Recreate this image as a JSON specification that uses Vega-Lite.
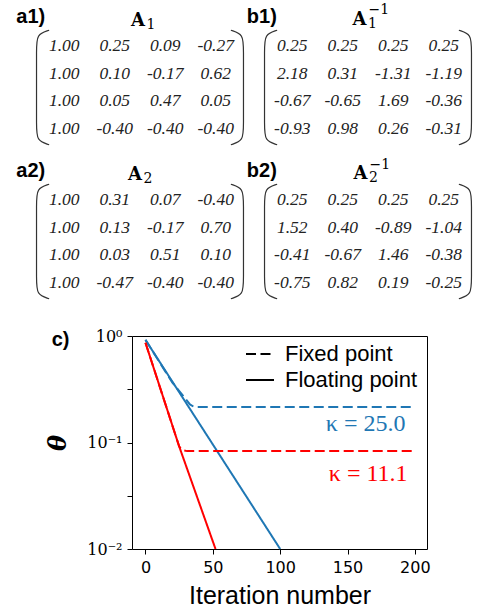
{
  "$schema": "https://vega.github.io/schema/vega-lite/v6.json",
  "background": "white",
  "padding": {"left": 16, "top": 3, "right": 0, "bottom": 0},
  "config": {
    "view": {"stroke": null},
    "axis": {"labelColor": "black", "tickColor": "black", "titleColor": "black", "grid": false, "domain": false},
    "legend": {"labelColor": "black"}
  },
  "datasets": {
    "mat": [
      {"m": "a1", "r": 0, "c": 0, "v": "1.00"}, {"m": "a1", "r": 0, "c": 1, "v": "0.25"}, {"m": "a1", "r": 0, "c": 2, "v": "0.09"}, {"m": "a1", "r": 0, "c": 3, "v": "-0.27"},
      {"m": "a1", "r": 1, "c": 0, "v": "1.00"}, {"m": "a1", "r": 1, "c": 1, "v": "0.10"}, {"m": "a1", "r": 1, "c": 2, "v": "-0.17"}, {"m": "a1", "r": 1, "c": 3, "v": "0.62"},
      {"m": "a1", "r": 2, "c": 0, "v": "1.00"}, {"m": "a1", "r": 2, "c": 1, "v": "0.05"}, {"m": "a1", "r": 2, "c": 2, "v": "0.47"}, {"m": "a1", "r": 2, "c": 3, "v": "0.05"},
      {"m": "a1", "r": 3, "c": 0, "v": "1.00"}, {"m": "a1", "r": 3, "c": 1, "v": "-0.40"}, {"m": "a1", "r": 3, "c": 2, "v": "-0.40"}, {"m": "a1", "r": 3, "c": 3, "v": "-0.40"},
      {"m": "b1", "r": 0, "c": 0, "v": "0.25"}, {"m": "b1", "r": 0, "c": 1, "v": "0.25"}, {"m": "b1", "r": 0, "c": 2, "v": "0.25"}, {"m": "b1", "r": 0, "c": 3, "v": "0.25"},
      {"m": "b1", "r": 1, "c": 0, "v": "2.18"}, {"m": "b1", "r": 1, "c": 1, "v": "0.31"}, {"m": "b1", "r": 1, "c": 2, "v": "-1.31"}, {"m": "b1", "r": 1, "c": 3, "v": "-1.19"},
      {"m": "b1", "r": 2, "c": 0, "v": "-0.67"}, {"m": "b1", "r": 2, "c": 1, "v": "-0.65"}, {"m": "b1", "r": 2, "c": 2, "v": "1.69"}, {"m": "b1", "r": 2, "c": 3, "v": "-0.36"},
      {"m": "b1", "r": 3, "c": 0, "v": "-0.93"}, {"m": "b1", "r": 3, "c": 1, "v": "0.98"}, {"m": "b1", "r": 3, "c": 2, "v": "0.26"}, {"m": "b1", "r": 3, "c": 3, "v": "-0.31"},
      {"m": "a2", "r": 0, "c": 0, "v": "1.00"}, {"m": "a2", "r": 0, "c": 1, "v": "0.31"}, {"m": "a2", "r": 0, "c": 2, "v": "0.07"}, {"m": "a2", "r": 0, "c": 3, "v": "-0.40"},
      {"m": "a2", "r": 1, "c": 0, "v": "1.00"}, {"m": "a2", "r": 1, "c": 1, "v": "0.13"}, {"m": "a2", "r": 1, "c": 2, "v": "-0.17"}, {"m": "a2", "r": 1, "c": 3, "v": "0.70"},
      {"m": "a2", "r": 2, "c": 0, "v": "1.00"}, {"m": "a2", "r": 2, "c": 1, "v": "0.03"}, {"m": "a2", "r": 2, "c": 2, "v": "0.51"}, {"m": "a2", "r": 2, "c": 3, "v": "0.10"},
      {"m": "a2", "r": 3, "c": 0, "v": "1.00"}, {"m": "a2", "r": 3, "c": 1, "v": "-0.47"}, {"m": "a2", "r": 3, "c": 2, "v": "-0.40"}, {"m": "a2", "r": 3, "c": 3, "v": "-0.40"},
      {"m": "b2", "r": 0, "c": 0, "v": "0.25"}, {"m": "b2", "r": 0, "c": 1, "v": "0.25"}, {"m": "b2", "r": 0, "c": 2, "v": "0.25"}, {"m": "b2", "r": 0, "c": 3, "v": "0.25"},
      {"m": "b2", "r": 1, "c": 0, "v": "1.52"}, {"m": "b2", "r": 1, "c": 1, "v": "0.40"}, {"m": "b2", "r": 1, "c": 2, "v": "-0.89"}, {"m": "b2", "r": 1, "c": 3, "v": "-1.04"},
      {"m": "b2", "r": 2, "c": 0, "v": "-0.41"}, {"m": "b2", "r": 2, "c": 1, "v": "-0.67"}, {"m": "b2", "r": 2, "c": 2, "v": "1.46"}, {"m": "b2", "r": 2, "c": 3, "v": "-0.38"},
      {"m": "b2", "r": 3, "c": 0, "v": "-0.75"}, {"m": "b2", "r": 3, "c": 1, "v": "0.82"}, {"m": "b2", "r": 3, "c": 2, "v": "0.19"}, {"m": "b2", "r": 3, "c": 3, "v": "-0.25"}
    ],
    "brk": [
      {"side": "L", "i": 0, "c": -0.30, "r": -0.57}, {"side": "L", "i": 1, "c": -0.55, "r": -0.42}, {"side": "L", "i": 2, "c": -0.55, "r": 0.1},
      {"side": "L", "i": 3, "c": -0.55, "r": 1.5}, {"side": "L", "i": 4, "c": -0.55, "r": 2.9}, {"side": "L", "i": 5, "c": -0.55, "r": 3.42}, {"side": "L", "i": 6, "c": -0.30, "r": 3.57},
      {"side": "R", "i": 0, "c": 3.30, "r": -0.57}, {"side": "R", "i": 1, "c": 3.55, "r": -0.42}, {"side": "R", "i": 2, "c": 3.55, "r": 0.1},
      {"side": "R", "i": 3, "c": 3.55, "r": 1.5}, {"side": "R", "i": 4, "c": 3.55, "r": 2.9}, {"side": "R", "i": 5, "c": 3.55, "r": 3.42}, {"side": "R", "i": 6, "c": 3.30, "r": 3.57}
    ],
    "lab": [
      {"m": "a1", "c": 1.46, "r": -0.72, "base": "A", "sub": "1", "sup": ""},
      {"m": "b1", "c": 1.33, "r": -0.76, "base": "A", "sub": "1", "sup": "−1"},
      {"m": "a2", "c": 1.40, "r": -0.72, "base": "A", "sub": "2", "sup": ""},
      {"m": "b2", "c": 1.35, "r": -0.75, "base": "A", "sub": "2", "sup": "−1"}
    ],
    "tags": [
      {"m": "a1", "c": -0.95, "r": -0.83, "t": "a1)"},
      {"m": "b1", "c": -0.90, "r": -0.83, "t": "b1)"},
      {"m": "a2", "c": -0.95, "r": -0.83, "t": "a2)"},
      {"m": "b2", "c": -0.90, "r": -0.83, "t": "b2)"}
    ],
    "ctag": [
      {"t": "c)", "x": -69.6, "y": 0.805}
    ],
    "lines": [
      {"series": "κ = 25.0", "type": "Floating point", "x": 0, "y": 0.92},
      {"series": "κ = 25.0", "type": "Floating point", "x": 100, "y": 0.01},
      {"series": "κ = 25.0", "type": "Fixed point", "x": 0, "y": 0.92},
      {"series": "κ = 25.0", "type": "Fixed point", "x": 20, "y": 0.365},
      {"series": "κ = 25.0", "type": "Fixed point", "x": 33, "y": 0.228},
      {"series": "κ = 25.0", "type": "Fixed point", "x": 36, "y": 0.216},
      {"series": "κ = 25.0", "type": "Fixed point", "x": 199, "y": 0.216},
      {"series": "κ = 11.1", "type": "Floating point", "x": 0, "y": 0.865},
      {"series": "κ = 11.1", "type": "Floating point", "x": 25, "y": 0.092},
      {"series": "κ = 11.1", "type": "Floating point", "x": 52, "y": 0.01},
      {"series": "κ = 11.1", "type": "Fixed point", "x": 0, "y": 0.865},
      {"series": "κ = 11.1", "type": "Fixed point", "x": 25, "y": 0.092},
      {"series": "κ = 11.1", "type": "Fixed point", "x": 27, "y": 0.085},
      {"series": "κ = 11.1", "type": "Fixed point", "x": 31, "y": 0.083},
      {"series": "κ = 11.1", "type": "Fixed point", "x": 199, "y": 0.083}
    ],
    "kappa": [
      {"series": "κ = 25.0", "x": 193, "y": 0.149},
      {"series": "κ = 11.1", "x": 194.6, "y": 0.0503}
    ]
  },
  "spacing": 9,
  "resolve": {"legend": {"strokeDash": "independent", "color": "independent"}},
  "vconcat": [
    {
      "spacing": 0,
      "hconcat": [
        {
          "width": 212, "height": 119,
          "encoding": {
            "x": {"field": "c", "type": "quantitative", "scale": {"domain": [-0.6, 3.6], "nice": false, "zero": false}, "axis": null},
            "y": {"field": "r", "type": "quantitative", "scale": {"domain": [3.65, -0.65], "nice": false, "zero": false}, "axis": null}
          },
          "layer": [
            {"data": {"name": "mat"}, "transform": [{"filter": "datum.m === 'a1'"}], "mark": {"type": "text", "font": "Liberation Serif", "fontStyle": "italic", "fontSize": 17.5, "align": "center", "baseline": "middle", "color": "#222"}, "encoding": {"text": {"field": "v"}}},
            {"data": {"name": "brk"}, "mark": {"type": "line", "interpolate": "basis", "color": "#333", "strokeWidth": 1.2}, "encoding": {"detail": {"field": "side"}, "order": {"field": "i"}}},
            {"data": {"name": "tags"}, "transform": [{"filter": "datum.m === 'a1'"}], "mark": {"type": "text", "font": "Liberation Sans", "fontWeight": "bold", "fontSize": 20, "align": "left", "baseline": "alphabetic", "color": "black"}, "encoding": {"text": {"field": "t"}}},
            {"data": {"name": "lab"}, "transform": [{"filter": "datum.m === 'a1'"}], "mark": {"type": "text", "font": "DejaVu Serif", "fontWeight": "bold", "fontSize": 18, "align": "center", "baseline": "alphabetic", "color": "black"}, "encoding": {"text": {"field": "base"}}},
            {"data": {"name": "lab"}, "transform": [{"filter": "datum.m === 'a1'"}], "mark": {"type": "text", "font": "DejaVu Serif", "fontSize": 14, "align": "left", "baseline": "alphabetic", "dx": 8.5, "dy": 3, "color": "black"}, "encoding": {"text": {"field": "sub"}}}
          ]
        },
        {
          "width": 212, "height": 119,
          "encoding": {
            "x": {"field": "c", "type": "quantitative", "scale": {"domain": [-0.6, 3.6], "nice": false, "zero": false}, "axis": null},
            "y": {"field": "r", "type": "quantitative", "scale": {"domain": [3.65, -0.65], "nice": false, "zero": false}, "axis": null}
          },
          "layer": [
            {"data": {"name": "mat"}, "transform": [{"filter": "datum.m === 'b1'"}], "mark": {"type": "text", "font": "Liberation Serif", "fontStyle": "italic", "fontSize": 17.5, "align": "center", "baseline": "middle", "color": "#222"}, "encoding": {"text": {"field": "v"}}},
            {"data": {"name": "brk"}, "mark": {"type": "line", "interpolate": "basis", "color": "#333", "strokeWidth": 1.2}, "encoding": {"detail": {"field": "side"}, "order": {"field": "i"}}},
            {"data": {"name": "tags"}, "transform": [{"filter": "datum.m === 'b1'"}], "mark": {"type": "text", "font": "Liberation Sans", "fontWeight": "bold", "fontSize": 20, "align": "left", "baseline": "alphabetic", "color": "black"}, "encoding": {"text": {"field": "t"}}},
            {"data": {"name": "lab"}, "transform": [{"filter": "datum.m === 'b1'"}], "mark": {"type": "text", "font": "DejaVu Serif", "fontWeight": "bold", "fontSize": 18, "align": "center", "baseline": "alphabetic", "color": "black"}, "encoding": {"text": {"field": "base"}}},
            {"data": {"name": "lab"}, "transform": [{"filter": "datum.m === 'b1'"}], "mark": {"type": "text", "font": "DejaVu Serif", "fontSize": 14, "align": "left", "baseline": "alphabetic", "dx": 8.5, "dy": 3, "color": "black"}, "encoding": {"text": {"field": "sub"}}},
            {"data": {"name": "lab"}, "transform": [{"filter": "datum.m === 'b1'"}], "mark": {"type": "text", "font": "DejaVu Serif", "fontSize": 14, "align": "left", "baseline": "alphabetic", "dx": 9, "dy": -10.7, "color": "black"}, "encoding": {"text": {"field": "sup"}}}
          ]
        }
      ]
    },
    {
      "spacing": 0,
      "hconcat": [
        {
          "width": 212, "height": 136,
          "encoding": {
            "x": {"field": "c", "type": "quantitative", "scale": {"domain": [-0.6, 3.6], "nice": false, "zero": false}, "axis": null},
            "y": {"field": "r", "type": "quantitative", "scale": {"domain": [4.265, -0.65], "nice": false, "zero": false}, "axis": null}
          },
          "layer": [
            {"data": {"name": "mat"}, "transform": [{"filter": "datum.m === 'a2'"}], "mark": {"type": "text", "font": "Liberation Serif", "fontStyle": "italic", "fontSize": 17.5, "align": "center", "baseline": "middle", "color": "#222"}, "encoding": {"text": {"field": "v"}}},
            {"data": {"name": "brk"}, "mark": {"type": "line", "interpolate": "basis", "color": "#333", "strokeWidth": 1.2}, "encoding": {"detail": {"field": "side"}, "order": {"field": "i"}}},
            {"data": {"name": "tags"}, "transform": [{"filter": "datum.m === 'a2'"}], "mark": {"type": "text", "font": "Liberation Sans", "fontWeight": "bold", "fontSize": 20, "align": "left", "baseline": "alphabetic", "color": "black"}, "encoding": {"text": {"field": "t"}}},
            {"data": {"name": "lab"}, "transform": [{"filter": "datum.m === 'a2'"}], "mark": {"type": "text", "font": "DejaVu Serif", "fontWeight": "bold", "fontSize": 18, "align": "center", "baseline": "alphabetic", "color": "black"}, "encoding": {"text": {"field": "base"}}},
            {"data": {"name": "lab"}, "transform": [{"filter": "datum.m === 'a2'"}], "mark": {"type": "text", "font": "DejaVu Serif", "fontSize": 14, "align": "left", "baseline": "alphabetic", "dx": 8.5, "dy": 3, "color": "black"}, "encoding": {"text": {"field": "sub"}}}
          ]
        },
        {
          "width": 212, "height": 136,
          "encoding": {
            "x": {"field": "c", "type": "quantitative", "scale": {"domain": [-0.6, 3.6], "nice": false, "zero": false}, "axis": null},
            "y": {"field": "r", "type": "quantitative", "scale": {"domain": [4.265, -0.65], "nice": false, "zero": false}, "axis": null}
          },
          "layer": [
            {"data": {"name": "mat"}, "transform": [{"filter": "datum.m === 'b2'"}], "mark": {"type": "text", "font": "Liberation Serif", "fontStyle": "italic", "fontSize": 17.5, "align": "center", "baseline": "middle", "color": "#222"}, "encoding": {"text": {"field": "v"}}},
            {"data": {"name": "brk"}, "mark": {"type": "line", "interpolate": "basis", "color": "#333", "strokeWidth": 1.2}, "encoding": {"detail": {"field": "side"}, "order": {"field": "i"}}},
            {"data": {"name": "tags"}, "transform": [{"filter": "datum.m === 'b2'"}], "mark": {"type": "text", "font": "Liberation Sans", "fontWeight": "bold", "fontSize": 20, "align": "left", "baseline": "alphabetic", "color": "black"}, "encoding": {"text": {"field": "t"}}},
            {"data": {"name": "lab"}, "transform": [{"filter": "datum.m === 'b2'"}], "mark": {"type": "text", "font": "DejaVu Serif", "fontWeight": "bold", "fontSize": 18, "align": "center", "baseline": "alphabetic", "color": "black"}, "encoding": {"text": {"field": "base"}}},
            {"data": {"name": "lab"}, "transform": [{"filter": "datum.m === 'b2'"}], "mark": {"type": "text", "font": "DejaVu Serif", "fontSize": 14, "align": "left", "baseline": "alphabetic", "dx": 8.5, "dy": 3, "color": "black"}, "encoding": {"text": {"field": "sub"}}},
            {"data": {"name": "lab"}, "transform": [{"filter": "datum.m === 'b2'"}], "mark": {"type": "text", "font": "DejaVu Serif", "fontSize": 14, "align": "left", "baseline": "alphabetic", "dx": 9, "dy": -10.7, "color": "black"}, "encoding": {"text": {"field": "sup"}}}
          ]
        }
      ]
    },
    {
      "spacing": 0,
      "resolve": {"legend": {"strokeDash": "independent", "color": "independent"}},
      "hconcat": [
        {"width": 12, "height": 1, "data": {"values": []}, "mark": {"type": "text"}},
        {
          "width": 295, "height": 213,
          "view": {"stroke": "black", "strokeWidth": 1},
          "encoding": {
            "x": {"field": "x", "type": "quantitative", "scale": {"domain": [-10, 209], "nice": false, "zero": false},
                  "axis": {"values": [0, 50, 100, 150, 200], "title": "Iteration number", "titleFont": "Liberation Sans", "titleFontSize": 25, "titleFontWeight": "normal", "titlePadding": 8, "labelFont": "DejaVu Sans", "labelFontSize": 16, "tickSize": 5, "labelPadding": 5}},
            "y": {"field": "y", "type": "quantitative", "scale": {"type": "log", "domain": [0.01, 1], "nice": false},
                  "axis": {"values": [1, 0.316228, 0.1, 0.0316228, 0.01], "labelExpr": "datum.value > 0.5 ? '10⁰' : (abs(datum.value - 0.1) < 0.000001 ? '10⁻¹' : (abs(datum.value - 0.01) < 0.000001 ? '10⁻²' : ''))", "title": "θ", "titleFont": "DejaVu Serif", "titleFontStyle": "italic", "titleFontWeight": "bold", "titleFontSize": 24, "titlePadding": 16, "labelFont": "DejaVu Serif", "labelFontSize": 16, "tickSize": 5, "labelPadding": 5}}
          },
          "layer": [
            {"data": {"name": "lines"}, "mark": {"type": "line", "strokeWidth": 2},
             "encoding": {
               "color": {"field": "series", "type": "nominal", "scale": {"domain": ["κ = 25.0", "κ = 11.1"], "range": ["#1f77b4", "#ff0000"]}, "legend": null},
               "strokeDash": {"field": "type", "type": "nominal", "scale": {"domain": ["Fixed point", "Floating point"], "range": [[10, 4.5], [1, 0]]},
                 "legend": {"title": null, "orient": "none", "legendX": 113, "legendY": 3, "padding": 0, "symbolType": "stroke", "symbolStrokeColor": "black", "symbolStrokeWidth": 2, "symbolSize": 784, "labelFont": "Liberation Sans", "labelFontSize": 22, "labelOffset": 10, "rowPadding": 0}}
             }},
            {"data": {"name": "kappa"}, "mark": {"type": "text", "font": "Liberation Serif", "fontSize": 24, "align": "right", "baseline": "middle"},
             "encoding": {"text": {"field": "series"}, "color": {"field": "series", "type": "nominal", "legend": null}}},
            {"data": {"name": "ctag"}, "mark": {"type": "text", "font": "Liberation Sans", "fontWeight": "bold", "fontSize": 20, "align": "left", "baseline": "alphabetic", "color": "black"},
             "encoding": {"text": {"field": "t"}}}
          ]
        }
      ]
    }
  ]
}
